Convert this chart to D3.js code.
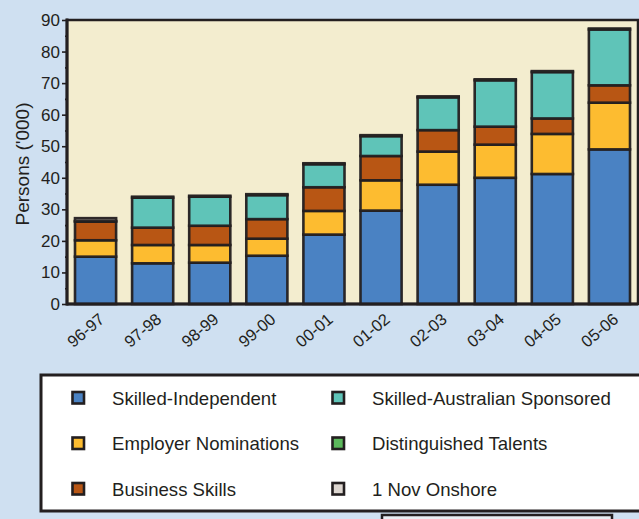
<!DOCTYPE html>
<html>
<head>
<meta charset="utf-8">
<script src="https://cdn.jsdelivr.net/npm/d3@7"></script>
<style>
  html, body { margin: 0; padding: 0; background: #cfe0f1; }
  svg { display: block; }
  text { font-family: "Liberation Sans", Arial, sans-serif; fill: #231f20; }
</style>
</head>
<body>
<svg id="chart"></svg>
<script>
// financial years on the x axis
const years = ['96-97', '97-98', '98-99', '99-00', '00-01', '01-02', '02-03', '03-04', '04-05', '05-06'];

// persons ('000) per category, bottom to top of each stack
const skilledIndependent = [15.0, 12.9, 13.1, 15.3, 22.0, 29.6, 37.8, 40.0, 41.2, 49.0];
const employerNominations = [5.2, 5.8, 5.6, 5.4, 7.5, 9.6, 10.5, 10.5, 12.7, 14.8];
const businessSkills = [5.9, 5.5, 6.1, 6.2, 7.5, 7.7, 6.8, 5.7, 4.9, 5.5];
const skilledAusSponsored = [0, 9.5, 9.2, 7.6, 7.3, 6.3, 10.4, 14.7, 14.7, 17.7];
const distinguishedTalents = [0.2, 0.3, 0.3, 0.3, 0.3, 0.3, 0.3, 0.3, 0.3, 0.3];
const onshore1Nov = [0.9, 0, 0, 0, 0, 0, 0, 0, 0, 0];

const yTicks = [0, 10, 20, 30, 40, 50, 60, 70, 80, 90];

const series = [
  {key: 'Skilled-Independent', values: skilledIndependent, color: '#4a82c3'},
  {key: 'Employer Nominations', values: employerNominations, color: '#fdbc30'},
  {key: 'Business Skills', values: businessSkills, color: '#b85614'},
  {key: 'Skilled-Australian Sponsored', values: skilledAusSponsored, color: '#5fc4b8'},
  {key: 'Distinguished Talents', values: distinguishedTalents, color: '#5cb85c'},
  {key: '1 Nov Onshore', values: onshore1Nov, color: '#ddd6d0'}
];

// legend is laid out in two columns of three
const legendOrder = [
  'Skilled-Independent', 'Employer Nominations', 'Business Skills',
  'Skilled-Australian Sponsored', 'Distinguished Talents', '1 Nov Onshore'
];

const width = 639, height = 519;
const ink = '#231f20';
const plot = {left: 67, right: 638, top: 20, bottom: 304};

const svg = d3.select('#chart')
  .attr('width', width)
  .attr('height', height);

// build table rows for d3.stack
const table = years.map((y, i) => {
  const row = {year: y};
  series.forEach(s => { row[s.key] = s.values[i]; });
  return row;
});

const stack = d3.stack().keys(series.map(s => s.key));
const stacked = stack(table);

const xScale = d3.scaleBand()
  .domain(years)
  .range([plot.left, plot.right])
  .paddingInner(0.28)
  .paddingOuter(0.14);

const yScale = d3.scaleLinear()
  .domain([0, 90])
  .range([plot.bottom, plot.top]);

const color = d3.scaleOrdinal()
  .domain(series.map(s => s.key))
  .range(series.map(s => s.color));

// plot background
svg.append('rect')
  .attr('x', plot.left)
  .attr('y', plot.top)
  .attr('width', plot.right - plot.left)
  .attr('height', plot.bottom - plot.top)
  .attr('fill', '#f3edcf')
  .attr('stroke', ink)
  .attr('stroke-width', 2.5);

// stacked bars
svg.append('g')
  .selectAll('g')
  .data(stacked)
  .join('g')
    .attr('fill', d => color(d.key))
  .selectAll('rect')
  .data(d => d.filter(v => v[1] - v[0] > 0))
  .join('rect')
    .attr('x', d => xScale(d.data.year))
    .attr('y', d => yScale(d[1]))
    .attr('width', xScale.bandwidth())
    .attr('height', d => yScale(d[0]) - yScale(d[1]))
    .attr('stroke', ink)
    .attr('stroke-width', 2.6)
    .attr('stroke-opacity', 0.95);

// y axis, major ticks
const yAxis = d3.axisLeft(yScale)
  .tickValues(yTicks)
  .tickSize(5)
  .tickPadding(2)
  .tickSizeOuter(0);

const yAxisG = svg.append('g')
  .attr('transform', `translate(${plot.left},0)`)
  .call(yAxis);
yAxisG.select('.domain').remove();
yAxisG.selectAll('line').attr('stroke', ink).attr('stroke-width', 1.6);
yAxisG.selectAll('text')
  .style('font-size', '17px')
  .attr('fill', ink);

// minor ticks every 5
const minorAxis = d3.axisLeft(yScale)
  .tickValues(d3.range(5, 90, 10))
  .tickSize(2)
  .tickFormat('');
const minorG = svg.append('g')
  .attr('transform', `translate(${plot.left},0)`)
  .call(minorAxis);
minorG.select('.domain').remove();
minorG.selectAll('line').attr('stroke', ink).attr('stroke-width', 1.6);

// left and bottom axis lines
svg.append('line')
  .attr('x1', plot.left).attr('x2', plot.left)
  .attr('y1', plot.top - 1.5).attr('y2', plot.bottom + 1.5)
  .attr('stroke', ink).attr('stroke-width', 3);
svg.append('line')
  .attr('x1', plot.left).attr('x2', plot.right)
  .attr('y1', plot.bottom).attr('y2', plot.bottom)
  .attr('stroke', ink).attr('stroke-width', 3);

// x axis labels, rotated
const xAxis = d3.axisBottom(xScale).tickSize(0).tickPadding(0);
const xAxisG = svg.append('g')
  .attr('transform', `translate(0,${plot.bottom})`)
  .call(xAxis);
xAxisG.select('.domain').remove();
xAxisG.selectAll('text')
  .style('font-size', '16.5px')
  .attr('fill', ink)
  .attr('text-anchor', 'end')
  .attr('dy', 0)
  .attr('transform', 'translate(10,17) rotate(-40)');

// y axis title
svg.append('text')
  .attr('transform', `translate(29,${(plot.top + plot.bottom) / 2 + 2}) rotate(-90)`)
  .attr('text-anchor', 'middle')
  .style('font-size', '19px')
  .text("Persons ('000)");

// legend
const legend = svg.append('g');
legend.append('rect')
  .attr('x', 41)
  .attr('y', 375)
  .attr('width', 640)
  .attr('height', 136)
  .attr('fill', '#ffffff')
  .attr('stroke', ink)
  .attr('stroke-width', 3);

const legendItems = legend.selectAll('g.item')
  .data(legendOrder)
  .join('g')
    .attr('class', 'item')
    .attr('transform', (d, i) => `translate(${i < 3 ? 71 : 331},${398 + (i % 3) * 45.5})`);

legendItems.append('rect')
  .attr('x', 1.5)
  .attr('y', -6)
  .attr('width', 11.5)
  .attr('height', 11.5)
  .attr('fill', d => color(d))
  .attr('stroke', ink)
  .attr('stroke-width', 2.6);

legendItems.append('text')
  .attr('x', 41)
  .attr('y', 0)
  .attr('dy', '0.36em')
  .style('font-size', '18.6px')
  .text(d => d);

// box peeking in at the bottom edge
svg.append('rect')
  .attr('x', 382)
  .attr('y', 515)
  .attr('width', 230)
  .attr('height', 20)
  .attr('fill', '#e9eef3')
  .attr('stroke', ink)
  .attr('stroke-width', 2.5);
</script>
</body>
</html>
